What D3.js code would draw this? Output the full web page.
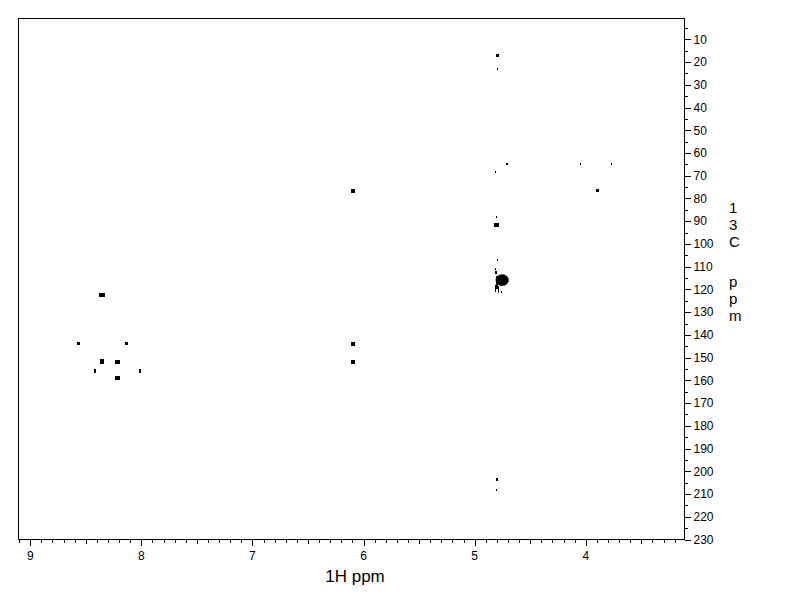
<!DOCTYPE html>
<html>
<head>
<meta charset="utf-8">
<script src="https://cdn.jsdelivr.net/npm/d3@7"></script>
<style>
  html, body { margin: 0; padding: 0; background: #fff; }
  svg { display: block; }
  text { font-family: "Liberation Sans", Arial, sans-serif; fill: #000; }
</style>
</head>
<body>
<svg id="chart" width="792" height="612"></svg>
<script>
// ---- Data ----
// Cross peaks: 1H shift (ppm), 13C shift (ppm), 1H extent (ppm), 13C extent (ppm)
const peakH  = [4.797, 4.797, 4.709, 4.043, 3.764, 3.897, 6.095, 6.095, 6.095, 4.810, 4.800, 4.800, 4.795,
                4.816, 4.807, 4.752, 4.801, 4.814, 4.787, 4.757,
                8.352, 8.568, 8.132, 8.355, 8.217, 8.418, 8.013, 8.217, 4.800, 4.800];
const peakC  = [17.2, 23.1, 64.9, 65.0, 65.0, 76.6, 76.6, 143.9, 152.0, 68.5, 88.3, 91.6, 107.0,
                111.0, 112.6, 115.9, 117.0, 119.8, 120.0, 121.0,
                122.4, 143.9, 143.9, 151.8, 151.8, 155.8, 155.8, 158.9, 203.6, 208.2];
const peakDH = [0.027, 0.009, 0.018, 0.009, 0.009, 0.027, 0.036, 0.036, 0.036, 0.009, 0.009, 0.045, 0.009,
                0.009, 0.018, 0.120, 0.022, 0.012, 0.012, 0.012,
                0.054, 0.027, 0.027, 0.036, 0.045, 0.018, 0.018, 0.045, 0.018, 0.009];
const peakDC = [1.3, 0.9, 0.9, 0.9, 0.9, 1.3, 1.8, 1.8, 1.8, 0.9, 0.9, 1.8, 0.9,
                0.9, 1.3, 5.2, 5.5, 3.2, 3.2, 0.9,
                1.8, 1.3, 1.3, 2.2, 1.8, 1.8, 1.8, 1.8, 1.3, 0.9];

const xTickLabels = [9, 8, 7, 6, 5, 4];
const yTickLabels = [10, 20, 30, 40, 50, 60, 70, 80, 90, 100, 110, 120, 130, 140, 150, 160,
                     170, 180, 190, 200, 210, 220, 230];
const xTitle = "1H ppm";
const yTitle = ["1", "3", "C", "p", "p", "m"];

// ---- Layout ----
const svg = d3.select("#chart");
const padL = 18.5, padR = 684.5, padT = 18.5, padB = 539.5;

const x = d3.scaleLinear().domain([9.106, 3.111]).range([padL, padR]);
const y = d3.scaleLinear().domain([0.85, 230]).range([padT, padB]);

// Frame
svg.append("path")
  .attr("d", `M${padL},${padB}V${padT}H${padR}V${padB}H${padL}`)
  .attr("fill", "none").attr("stroke", "#000").attr("stroke-width", 1)
  .attr("shape-rendering", "crispEdges");

// X axis (bottom, reversed ppm)
const xMinor = d3.range(91, 31, -1).map(d => d / 10);
const xAxisG = svg.append("g").attr("transform", `translate(0,${padB})`);
xAxisG.selectAll("line").data(xMinor).join("line")
  .attr("x1", d => Math.round(x(d)) + 0.5).attr("x2", d => Math.round(x(d)) + 0.5)
  .attr("y1", 0)
  .attr("y2", d => {
    const t = Math.round(d * 10);
    return t % 10 === 0 ? 6 : (t % 5 === 0 ? 4.5 : 3);
  })
  .attr("stroke", "#000").attr("shape-rendering", "crispEdges");
xAxisG.selectAll("text").data(xTickLabels).join("text")
  .attr("x", d => x(d)).attr("y", 20)
  .attr("text-anchor", "middle").attr("font-size", 12)
  .text(d => d);

// Y axis (right)
const yMinor = d3.range(5, 231, 5);
const yAxisG = svg.append("g").attr("transform", `translate(${padR},0)`);
yAxisG.selectAll("line").data(yMinor).join("line")
  .attr("y1", d => Math.round(y(d)) + 0.5).attr("y2", d => Math.round(y(d)) + 0.5)
  .attr("x1", 0).attr("x2", d => d % 10 === 0 ? 6 : 3)
  .attr("stroke", "#000").attr("shape-rendering", "crispEdges");
yAxisG.selectAll("text").data(yTickLabels).join("text")
  .attr("x", 9).attr("y", d => y(d) + 4.3)
  .attr("text-anchor", "start").attr("font-size", 12)
  .text(d => d);

// Axis titles
svg.append("text")
  .attr("x", 355).attr("y", 582)
  .attr("text-anchor", "middle").attr("font-size", 17)
  .text(xTitle);

// Vertical stacked title, one character per line
const yTitleBase = [213, 230, 247, 287, 304, 321];
svg.append("g").selectAll("text").data(yTitle).join("text")
  .attr("x", 729).attr("y", (d, i) => yTitleBase[i])
  .attr("font-size", 15)
  .text(d => d);

// Peaks
const peaks = peakH.map((h, i) => ({ h, c: peakC[i], dh: peakDH[i], dc: peakDC[i] }));
const gp = svg.append("g");
peaks.forEach(p => {
  const x0 = x(p.h + p.dh / 2), x1 = x(p.h - p.dh / 2);
  const y0 = y(p.c - p.dc / 2), y1 = y(p.c + p.dc / 2);
  const w = Math.max(1, x1 - x0), hgt = Math.max(1, y1 - y0);
  if (p.dh > 0.08) {
    gp.append("ellipse")
      .attr("cx", x(p.h)).attr("cy", y(p.c))
      .attr("rx", w / 2).attr("ry", hgt / 2)
      .attr("fill", "#000");
  } else {
    gp.append("rect")
      .attr("x", Math.round(x0)).attr("y", Math.round(y0))
      .attr("width", Math.max(1, Math.round(w))).attr("height", Math.max(1, Math.round(hgt)))
      .attr("fill", "#000").attr("shape-rendering", "crispEdges");
  }
});
</script>
</body>
</html>
